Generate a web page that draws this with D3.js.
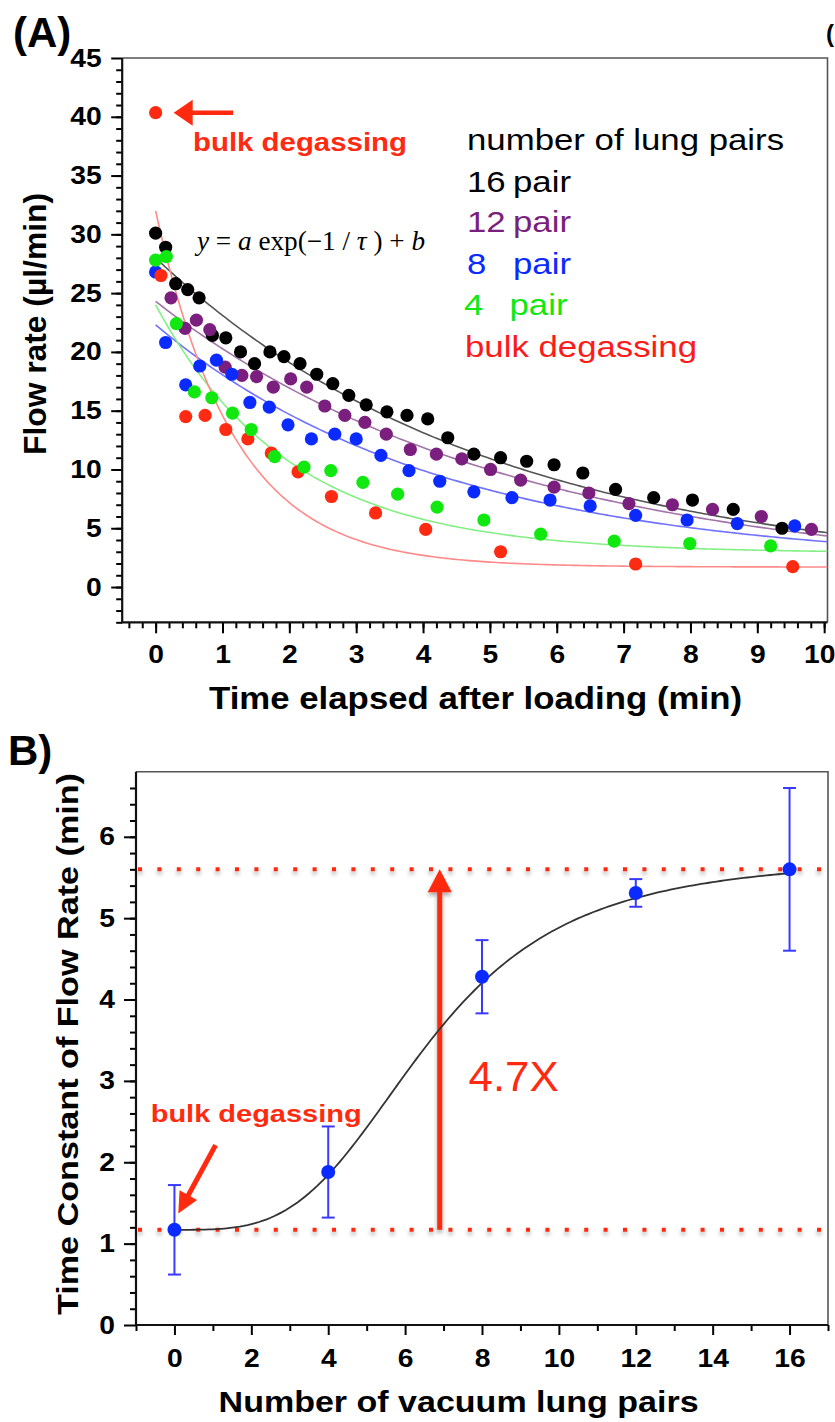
<!DOCTYPE html>
<html lang="en">
<head>
<meta charset="UTF-8">
<title>Flow rate decay and time constant</title>
<script src="https://d3js.org/d3.v7.min.js"></script>
<style>
  body { margin: 0; background: #fff; }
  svg { display: block; font-family: "Liberation Sans", Arial, Helvetica, sans-serif; }
</style>
</head>
<body>
<div id="container"></div>
<script>
// ---- panel A : flow rate vs time ----
const time16 = [0.0, 0.15, 0.30, 0.48, 0.65, 0.85, 1.05, 1.27, 1.48, 1.71, 1.92, 2.16, 2.41, 2.65, 2.89, 3.15, 3.46, 3.76, 4.07, 4.37, 4.76, 5.16, 5.55, 5.96, 6.39, 6.88, 7.45, 8.03, 8.64, 9.37];
const flow16 = [30.1, 28.9, 25.8, 25.3, 24.6, 21.4, 21.2, 20.0, 19.0, 20.0, 19.6, 19.0, 18.1, 17.3, 16.3, 15.5, 14.9, 14.6, 14.3, 12.7, 11.3, 11.0, 10.7, 10.4, 9.7, 8.3, 7.6, 7.4, 6.6, 5.0];

const time12 = [0.23, 0.44, 0.61, 0.81, 1.04, 1.29, 1.51, 1.76, 2.02, 2.26, 2.53, 2.83, 3.13, 3.45, 3.81, 4.20, 4.58, 5.01, 5.46, 5.96, 6.48, 7.08, 7.73, 8.33, 9.06, 9.81];
const flow12 = [24.6, 22.0, 22.7, 21.9, 18.7, 18.0, 17.9, 17.0, 17.7, 17.0, 15.4, 14.6, 14.0, 13.0, 11.7, 11.3, 10.9, 10.0, 9.1, 8.5, 8.0, 7.1, 7.0, 6.6, 6.0, 4.9];

const time8 = [0.0, 0.15, 0.45, 0.66, 0.91, 1.14, 1.41, 1.70, 1.98, 2.33, 2.68, 3.00, 3.37, 3.79, 4.25, 4.76, 5.33, 5.90, 6.50, 7.18, 7.95, 8.70, 9.56];
const flow8 = [26.8, 20.8, 17.2, 18.8, 19.3, 18.1, 15.7, 15.3, 13.8, 12.6, 13.0, 12.6, 11.2, 9.9, 9.0, 8.1, 7.6, 7.4, 6.9, 6.1, 5.7, 5.4, 5.2];

const time4 = [0.0, 0.16, 0.31, 0.58, 0.84, 1.15, 1.43, 1.78, 2.22, 2.62, 3.10, 3.62, 4.21, 4.91, 5.76, 6.86, 7.99, 9.20];
const flow4 = [27.8, 28.1, 22.4, 16.6, 16.1, 14.8, 13.4, 11.1, 10.2, 9.9, 8.9, 7.9, 6.8, 5.7, 4.5, 3.9, 3.7, 3.5];

const time0 = [0.0, 0.08, 0.45, 0.74, 1.05, 1.38, 1.73, 2.13, 2.63, 3.29, 4.04, 5.16, 7.18, 9.53];
const flow0 = [40.35, 26.5, 14.5, 14.6, 13.4, 12.6, 11.4, 9.8, 7.7, 6.3, 4.9, 3.0, 1.96, 1.73];

// fitted y = a exp(-t/tau) + b, one per series (16, 12, 8, 4 pair, bulk)
const fitA = [27.0, 23.5, 20.4, 21.1, 30.3];
const fitTau = [5.0, 5.31, 4.28, 2.0, 1.17];
const fitB = [1.0, 0.8, 1.9, 2.9, 1.7];

const legendNums = ["16", "12", "8", "4"];
const dotColors = ["#000000", "#7a1f7d", "#0a2aff", "#10e810", "#ff2a12"];
const lineColors = ["#555555", "#a274aa", "#7272ff", "#84ef84", "#ff8a8a"];

// ---- panel B : time constant vs number of lung pairs ----
const pairs = [0, 4, 8, 12, 16];
const tauVals = [1.17, 1.88, 4.28, 5.31, 5.60];
const tauErr = [0.55, 0.56, 0.45, 0.17, 1.00];
// sigmoid (Hill) fit of the time constant
const hillBase = 1.17, hillTop = 5.75, hillK = 6.6, hillN = 3.5;

const red = "#ff2a10";
const SX = 1.13; // the original picture is a bit wider than tall

const svg = d3.select("#container").append("svg")
  .attr("width", 835).attr("height", 1422);

const defs = svg.append("defs");
defs.append("filter").attr("id", "shadow")
  .attr("filterUnits", "userSpaceOnUse")
  .attr("x", 0).attr("y", 0).attr("width", 835).attr("height", 1422)
  .append("feDropShadow")
  .attr("dx", 0).attr("dy", 3).attr("stdDeviation", 2)
  .attr("flood-color", "#000").attr("flood-opacity", 0.35);

function txt(g, x, y, s, o) {
  let tr = `translate(${x},${y})`;
  if (o.rot) tr += ` rotate(${o.rot})`;
  if (o.sx) tr += ` scale(${o.sx},1)`;
  const t = g.append("text")
    .attr("transform", tr)
    .attr("font-size", o.size)
    .attr("font-weight", o.bold ? "bold" : "normal")
    .attr("fill", o.color || "#000")
    .attr("text-anchor", o.anchor || "start")
    .text(s);
  if (o.len) t.attr("textLength", o.len).attr("lengthAdjust", "spacingAndGlyphs");
  if (o.family) t.attr("font-family", o.family);
  return t;
}

// solid arrow from (x1,y1) to tip (x2,y2), pixel coords
function arrow(g, x1, y1, x2, y2, headLen, headHalf, width, color, filter) {
  const dx = x2 - x1, dy = y2 - y1, L = Math.hypot(dx, dy);
  const ux = dx / L, uy = dy / L, nx = -uy, ny = ux;
  const bx = x2 - ux * headLen, by = y2 - uy * headLen;
  const a = g.append("g");
  if (filter) a.attr("filter", filter);
  a.append("line")
    .attr("x1", x1).attr("y1", y1).attr("x2", bx + ux).attr("y2", by + uy)
    .attr("stroke", color).attr("stroke-width", width);
  a.append("path")
    .attr("d", `M${x2},${y2}L${bx + nx * headHalf},${by + ny * headHalf}L${bx - nx * headHalf},${by - ny * headHalf}Z`)
    .attr("fill", color);
}

function styleTicks(g, size) {
  g.select(".domain").remove();
  g.selectAll("line").attr("stroke", "#000").attr("stroke-width", 2);
  g.selectAll("text")
    .attr("font-size", size).attr("font-weight", "bold")
    .attr("font-family", "Liberation Sans, Arial, sans-serif")
    .attr("fill", "#000")
    .attr("transform", `scale(${SX},1)`);
}

// =================== PANEL A ===================
const xA = d3.scaleLinear().domain([-0.5, 10.05]).range([122.2, 827.5]);
const yA = d3.scaleLinear().domain([-3, 45]).range([622.3, 58]);
const gA = svg.append("g");

defs.append("clipPath").attr("id", "clipA").append("rect")
  .attr("x", xA.range()[0]).attr("y", yA.range()[1])
  .attr("width", xA.range()[1] - xA.range()[0])
  .attr("height", yA.range()[0] - yA.range()[1]);

// minor + major ticks
gA.append("g").attr("transform", `translate(0,${yA.range()[0]})`)
  .call(d3.axisBottom(xA).tickValues(d3.range(-0.4, 10.05, 0.2)).tickSize(6).tickFormat(""))
  .call(g => styleTicks(g, 25));
gA.append("g").attr("transform", `translate(0,${yA.range()[0]})`)
  .call(d3.axisBottom(xA).tickValues(d3.range(0, 11, 1)).tickSize(11).tickPadding(12).tickFormat(d3.format("d")))
  .call(g => styleTicks(g, 25))
  .call(g => g.selectAll(".tick").filter(d => d === 10).select("text")
    .attr("text-anchor", "end").attr("x", 9.5));
gA.append("g").attr("transform", `translate(${xA.range()[0]},0)`)
  .call(d3.axisLeft(yA).tickValues(d3.range(-3, 45, 1)).tickSize(6).tickFormat(""))
  .call(g => styleTicks(g, 25));
gA.append("g").attr("transform", `translate(${xA.range()[0]},0)`)
  .call(d3.axisLeft(yA).tickValues(d3.range(0, 46, 5)).tickSize(11).tickPadding(7.2).tickFormat(d3.format("d")))
  .call(g => styleTicks(g, 25));

// frame
gA.append("path")
  .attr("d", `M${xA.range()[0]},${yA.range()[1]}H${xA.range()[1]}V${yA.range()[0]}`)
  .attr("fill", "none").attr("stroke", "#555").attr("stroke-width", 1.6);
gA.append("path")
  .attr("d", `M${xA.range()[0]},${yA.range()[1]}V${yA.range()[0]}H${xA.range()[1]}`)
  .attr("fill", "none").attr("stroke", "#111").attr("stroke-width", 2.2);

// fitted curves
const tFit = d3.range(0, 10.06, 0.05);
const lineA = d3.line().x(d => xA(d[0])).y(d => yA(d[1]));
const fits = gA.append("g").attr("clip-path", "url(#clipA)");
fitA.forEach((a, i) => {
  fits.append("path")
    .attr("d", lineA(tFit.map(t => [t, a * Math.exp(-t / fitTau[i]) + fitB[i]])))
    .attr("fill", "none").attr("stroke", lineColors[i]).attr("stroke-width", 1.6);
});

// data points
const seriesT = [time16, time12, time8, time4, time0];
const seriesF = [flow16, flow12, flow8, flow4, flow0];
[0, 1, 2, 4, 3].forEach(i => {
  gA.append("g").selectAll("circle")
    .data(seriesT[i].map((t, k) => [t, seriesF[i][k]]))
    .join("circle")
    .attr("cx", d => xA(d[0])).attr("cy", d => yA(d[1]))
    .attr("r", 6.6).attr("fill", dotColors[i]);
});

// annotation: arrow + bold label
arrow(gA, xA(1.16), yA(40.35), xA(0.27), yA(40.35), 19, 13, 4.5, red);
txt(gA, 193, 151, "bulk degassing", { size: 25, bold: true, color: red, len: 214 });

// equation
const eq = gA.append("text")
  .attr("x", 197).attr("y", 250)
  .attr("font-family", "Liberation Serif, 'Times New Roman', serif")
  .attr("font-size", 27)
  .attr("textLength", 228).attr("lengthAdjust", "spacingAndGlyphs");
[["y", true], [" = ", false], ["a", true], [" exp(\u22121 / ", false], ["\u03c4", true], [" ) + ", false], ["b", true]]
  .forEach(p => eq.append("tspan").attr("font-style", p[1] ? "italic" : "normal").text(p[0]));

// legend
txt(gA, 467, 150, "number of lung pairs", { size: 30, sx: 1.16 });
const legY = [191.5, 232, 273.5, 315];
legendNums.forEach((n, i) => {
  txt(gA, i === 3 ? 464 : 467, legY[i], n, { size: 30, sx: 1.16, color: dotColors[i] });
  txt(gA, i === 3 ? 509.5 : 513, legY[i], "pair", { size: 30, sx: 1.16, color: dotColors[i] });
});
txt(gA, 465, 357, "bulk degassing", { size: 30, sx: 1.16, color: "#ff1a1a" });

// axis titles + panel label
txt(gA, 209, 708.5, "Time elapsed after loading (min)", { size: 32, bold: true, len: 533 });
txt(gA, 46, 324, "Flow rate (\u00b5l/min)", { size: 31, bold: true, rot: -90, anchor: "middle", len: 262 });
txt(gA, 13, 47, "(A)", { size: 42, bold: true });
txt(gA, 826, 42, "(", { size: 24, bold: true });

// =================== PANEL B ===================
const xB = d3.scaleLinear().domain([-1, 17]).range([136, 828]);
const yB = d3.scaleLinear().domain([0, 6.8]).range([1325, 771.7]);
const gB = svg.append("g");

gB.append("g").attr("transform", `translate(0,${yB.range()[0]})`)
  .call(d3.axisBottom(xB).tickValues(d3.range(-1, 17.5, 2)).tickSize(6).tickFormat(""))
  .call(g => styleTicks(g, 25));
gB.append("g").attr("transform", `translate(0,${yB.range()[0]})`)
  .call(d3.axisBottom(xB).tickValues(d3.range(0, 17, 2)).tickSize(10).tickPadding(14).tickFormat(d3.format("d")))
  .call(g => styleTicks(g, 25));
gB.append("g").attr("transform", `translate(${xB.range()[0]},0)`)
  .call(d3.axisLeft(yB).tickValues(d3.range(0.2, 6.8, 0.2)).tickSize(6).tickFormat(""))
  .call(g => styleTicks(g, 25));
gB.append("g").attr("transform", `translate(${xB.range()[0]},0)`)
  .call(d3.axisLeft(yB).tickValues(d3.range(0, 7, 1)).tickSize(12).tickPadding(6.6).tickFormat(d3.format("d")))
  .call(g => styleTicks(g, 25));

gB.append("path")
  .attr("d", `M${xB.range()[0]},${yB.range()[1]}H${xB.range()[1]}V${yB.range()[0]}`)
  .attr("fill", "none").attr("stroke", "#555").attr("stroke-width", 1.6);
gB.append("path")
  .attr("d", `M${xB.range()[0]},${yB.range()[1]}V${yB.range()[0]}H${xB.range()[1]}`)
  .attr("fill", "none").attr("stroke", "#111").attr("stroke-width", 2.2);

// dotted reference levels (bulk and 16 pair)
[tauVals[0], tauVals[4]].forEach(v => {
  gB.append("line")
    .attr("x1", xB.range()[0] + 2).attr("x2", xB.range()[1])
    .attr("y1", yB(v)).attr("y2", yB(v))
    .attr("stroke", red).attr("stroke-width", 4)
    .attr("stroke-dasharray", "4 15.4")
    .attr("filter", "url(#shadow)");
});

// red 4.7X arrow
arrow(gB, xB(6.9), yB(tauVals[0]), xB(6.9), yB(tauVals[4]), 23, 12, 5, red, "url(#shadow)");
txt(gB, 468.6, 1090.7, "4.7X", { size: 42, color: red, len: 90 });

// sigmoid fit
const nFit = d3.range(0, 16.01, 0.1);
const lineB = d3.line().x(d => xB(d[0])).y(d => yB(d[1]));
gB.append("path")
  .attr("d", lineB(nFit.map(n => {
    const p = Math.pow(n / hillK, hillN);
    return [n, hillBase + (hillTop - hillBase) * p / (1 + p)];
  })))
  .attr("fill", "none").attr("stroke", "#333").attr("stroke-width", 1.8);

// error bars + points
const bData = pairs.map((p, i) => ({ p, v: tauVals[i], e: tauErr[i] }));
const eb = gB.append("g").attr("stroke", "#3a3aff").attr("stroke-width", 2);
bData.forEach(d => {
  eb.append("line").attr("x1", xB(d.p)).attr("x2", xB(d.p)).attr("y1", yB(d.v - d.e)).attr("y2", yB(d.v + d.e));
  eb.append("line").attr("x1", xB(d.p) - 6.5).attr("x2", xB(d.p) + 6.5).attr("y1", yB(d.v - d.e)).attr("y2", yB(d.v - d.e));
  eb.append("line").attr("x1", xB(d.p) - 6.5).attr("x2", xB(d.p) + 6.5).attr("y1", yB(d.v + d.e)).attr("y2", yB(d.v + d.e));
});
gB.append("g").selectAll("circle").data(bData).join("circle")
  .attr("cx", d => xB(d.p)).attr("cy", d => yB(d.v)).attr("r", 7).attr("fill", "#0a2aff");

// bulk degassing annotation
arrow(gB, xB(1.07), yB(2.21), xB(0.10), yB(1.37), 21, 10, 5, red);
txt(gB, 150.7, 1121.7, "bulk degassing", { size: 24, bold: true, color: red, len: 211 });

txt(gB, 218.6, 1412, "Number of vacuum lung pairs", { size: 29, bold: true, len: 480 });
txt(gB, 77.5, 1044, "Time Constant of Flow Rate (min)", { size: 30, bold: true, rot: -90, anchor: "middle", len: 542 });
txt(gB, 8, 765, "B)", { size: 42, bold: true });
</script>
</body>
</html>
